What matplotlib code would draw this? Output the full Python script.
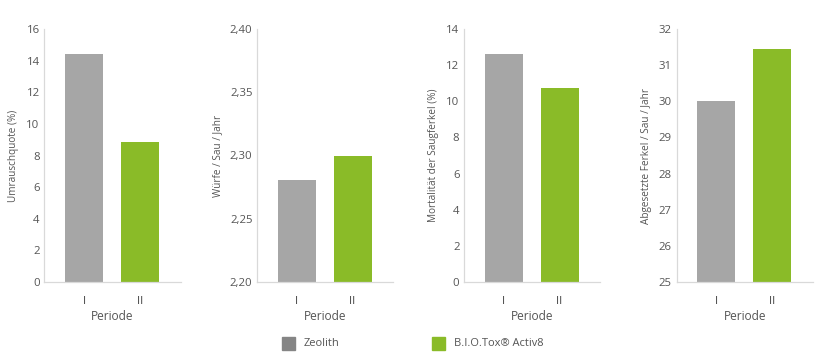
import matplotlib
matplotlib.use("Agg")
import matplotlib.pyplot as plt
from matplotlib.patches import Rectangle

plt.rcParams["font.family"] = ["Open Sans", "DejaVu Sans"]

periods = ["I", "II"]
series_names = ["Zeolith", "B.I.O.Tox® Activ8"]

umrauschquote = [14.4, 8.85]
wuerfe = [2.281, 2.300]
mortalitaet = [12.6, 10.75]
abgesetzte = [30.0, 31.45]

panels = [
    ("Umrauschquote (%)", umrauschquote, (0, 16), [0, 2, 4, 6, 8, 10, 12, 14, 16], "{:.0f}"),
    ("Würfe / Sau / Jahr", wuerfe, (2.20, 2.40), [2.20, 2.25, 2.30, 2.35, 2.40], "{:.2f}"),
    ("Mortalität der Saugferkel (%)", mortalitaet, (0, 14), [0, 2, 4, 6, 8, 10, 12, 14], "{:.0f}"),
    ("Abgesetzte Ferkel / Sau / Jahr", abgesetzte, (25, 32), [25, 26, 27, 28, 29, 30, 31, 32], "{:.0f}"),
]

GRAY = "#a6a6a6"
GREEN = "#8abb28"
LEGEND_GRAY = "#858585"
TEXT = "#555555"
SPINE = "#d9d9d9"

W, H = 828, 362
fig = plt.figure(figsize=(W / 100, H / 100), dpi=100)

lefts = [44.5, 257.3, 464.3, 676.7]
ax_w, ax_bottom, ax_h = 136, 80, 253

for left, (ylabel, vals, ylim, ticks, fmt) in zip(lefts, panels):
    ax = fig.add_axes([left / W, ax_bottom / H, ax_w / W, ax_h / H])
    ax.bar([0, 1], [v - ylim[0] for v in vals], bottom=ylim[0], width=0.68,
           color=[GRAY, GREEN])
    ax.set_xlim(-0.71, 1.73)
    ax.set_ylim(*ylim)
    ax.set_yticks(ticks)
    ax.set_yticklabels([fmt.format(t).replace(".", ",") for t in ticks])
    ax.set_xticks([0, 1])
    # Lato: plain "I" glyphs, no merged look for "II"
    ax.set_xticklabels(periods, family=["Lato", "DejaVu Sans"], fontsize=8.6)
    ax.tick_params(length=0, labelsize=8.2, colors=TEXT, pad=3.5)
    ax.tick_params(axis="x", pad=9)
    for s in ["top", "right"]:
        ax.spines[s].set_visible(False)
    for s in ["left", "bottom"]:
        ax.spines[s].set_color(SPINE)
        ax.spines[s].set_linewidth(0.9)
    ax.set_xlabel("Periode", fontsize=8.6, color=TEXT, labelpad=3)
    ax.set_ylabel(ylabel, fontsize=7.2, color=TEXT, labelpad=5)

# legend
for x0, color, label in [(282, LEGEND_GRAY, series_names[0]), (432, GREEN, series_names[1])]:
    fig.patches.append(Rectangle((x0 / W, (H - 350) / H), 13 / W, 13 / H,
                                 transform=fig.transFigure, color=color))
    fig.text((x0 + 22) / W, (H - 343.5) / H, label, fontsize=8.0, color=TEXT,
             va="center", ha="left")

fig.savefig("out.png", dpi=100)
